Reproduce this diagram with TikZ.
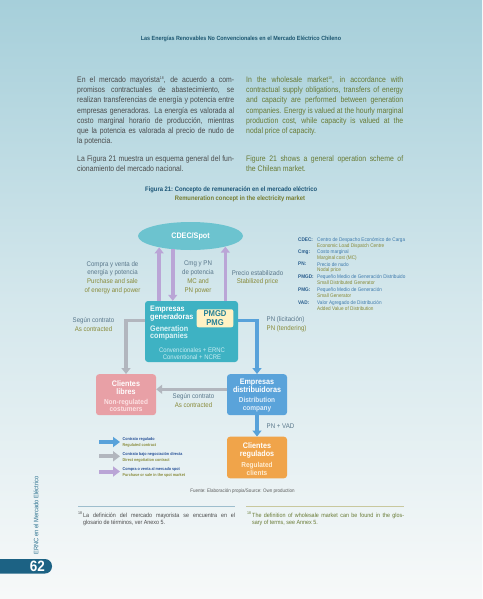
\documentclass[tikz,border=0pt]{standalone}
\usepackage{fontspec}
\setmainfont{Liberation Sans}
\newfontfamily\cond[FakeStretch=0.9]{Liberation Sans}
\newfontfamily\bodyf[FakeStretch=0.86]{Liberation Sans}
\usetikzlibrary{shapes.geometric,arrows.meta}
\tolerance=9999
\hbadness=10000
\newcommand{\fnmk}[1]{\raisebox{3pt}{\fontsize{4}{4}\selectfont #1}}
\definecolor{bgtop}{RGB}{166,207,218}
\definecolor{bgmid}{RGB}{212,231,236}
\definecolor{bgbot}{RGB}{247,249,249}
\definecolor{hdr}{RGB}{28,86,112}
\definecolor{bodyg}{RGB}{75,75,75}
\definecolor{bodyo}{RGB}{104,122,52}
\definecolor{capb}{RGB}{26,84,118}
\definecolor{capo}{RGB}{118,124,48}
\definecolor{labb}{RGB}{88,118,138}
\definecolor{labo}{RGB}{136,138,56}
\definecolor{cell}{RGB}{108,195,207}
\definecolor{cgen}{RGB}{62,178,195}
\definecolor{cgens}{RGB}{222,244,247}
\definecolor{cgenc}{RGB}{200,236,242}
\definecolor{cpmg}{RGB}{255,242,196}
\definecolor{cpmgt}{RGB}{38,128,150}
\definecolor{cpink}{RGB}{232,160,166}
\definecolor{cpinks}{RGB}{253,226,228}
\definecolor{cdist}{RGB}{90,163,218}
\definecolor{cdists}{RGB}{222,237,250}
\definecolor{corg}{RGB}{240,164,74}
\definecolor{corgs}{RGB}{255,236,208}
\definecolor{apurple}{RGB}{186,165,214}
\definecolor{agrey}{RGB}{178,182,190}
\definecolor{ablue}{RGB}{88,162,218}
\definecolor{legb}{RGB}{36,78,150}
\definecolor{abbl}{RGB}{40,92,140}
\definecolor{abbs}{RGB}{62,122,172}
\definecolor{tabc}{RGB}{28,98,132}
\definecolor{vert}{RGB}{42,112,142}
\definecolor{srcg}{RGB}{90,90,90}
\definecolor{rulel}{RGB}{158,190,205}
\definecolor{ruler}{RGB}{200,200,158}
\tikzset{
  txt/.style={inner sep=0pt},
  para/.style={txt, anchor=base west, text width=157pt, align=justify,
    font=\bodyf\fontsize{8}{10.2}\selectfont},
  lab/.style={txt, align=center, font=\cond\fontsize{6.8}{8.8}\selectfont},
  labl/.style={txt, align=left, anchor=west, font=\cond\fontsize{6.8}{8.3}\selectfont},
  box/.style={rounded corners=3pt, inner sep=0pt, minimum width=60pt, minimum height=41pt},
  btitle/.style={txt, align=center, text=white, font=\cond\bfseries\fontsize{8}{8.4}\selectfont},
  bsub/.style={txt, align=center, font=\cond\bfseries\fontsize{7.2}{7.6}\selectfont},
  conn/.style={line width=3.6pt, -{Triangle[width=9pt,length=6pt]}},
  purp/.style={conn, draw=apurple},
  greyc/.style={conn, draw=agrey},
  bluec/.style={conn, draw=ablue},
  legarrow/.style={line width=4pt, -{Triangle[width=10pt,length=7pt]}},
  legtxt/.style={txt, anchor=west, align=left, font=\cond\bfseries\fontsize{4.1}{5.8}\selectfont},
  abbk/.style={txt, anchor=north west, text=abbl, font=\cond\bfseries\fontsize{5.2}{5.7}\selectfont},
  abbd/.style={txt, anchor=north west, align=left, font=\cond\fontsize{5.2}{5.7}\selectfont},
  foot/.style={txt, anchor=base west, text width=152pt, align=justify,
    font=\cond\fontsize{6}{7.4}\selectfont},
}
\begin{document}
\begin{tikzpicture}[x=1pt,y=-1pt]
\useasboundingbox (0,0) rectangle (482,599);
% background
\shade[top color=bgtop, bottom color=bgmid] (0,0) rectangle (482,300);
\shade[top color=bgmid, bottom color=bgbot] (0,299.5) rectangle (482,599);

% header
\node[txt, text=hdr, font=\cond\bfseries\fontsize{6}{7}\selectfont] (hdr) at (241,39)
  {Las Energías Renovables No Convencionales en el Mercado Eléctrico Chileno};

% body text
\node[para, text=bodyg] (pl1) at (77,82.5) {En el mercado mayorista\fnmk{18}, de acuerdo a com-\linebreak
promisos contractuales de abastecimiento, se\linebreak
realizan transferencias de energía y potencia entre\linebreak
empresas generadoras. La energía es valorada al\linebreak
costo marginal horario de producción, mientras\linebreak
que la potencia es valorada al precio de nudo de\linebreak
la potencia.};
\node[para, text=bodyg] (pl2) at (77,161) {La Figura 21 muestra un esquema general del fun-\linebreak
cionamiento del mercado nacional.};
\node[para, text=bodyo] (pr1) at (246,82.5) {In the wholesale market\fnmk{18}, in accordance with\linebreak
contractual supply obligations, transfers of energy\linebreak
and capacity are performed between generation\linebreak
companies. Energy is valued at the hourly marginal\linebreak
production cost, while capacity is valued at the\linebreak
nodal price of capacity.};
\node[para, text=bodyo] (pr2) at (246,161) {Figure 21 shows a general operation scheme of\linebreak
the Chilean market.};

% caption
\node[txt, anchor=base west, font=\cond\bfseries\fontsize{6.5}{9}\selectfont] (cap) at (145,191)
  {\begin{tabular}[t]{@{}l@{}l@{}}\textcolor{capb}{Figura 21:\ } & \textcolor{capb}{Concepto de remuneración en el mercado eléctrico}\\
   & \textcolor{capo}{Remuneration concept in the electricity market}\end{tabular}};

% CDEC ellipse
\node[ellipse, fill=cell, minimum width=105pt, minimum height=28pt, inner sep=0pt,
  text=white, font=\cond\bfseries\fontsize{8}{9}\selectfont] (cdec) at (190.5,236) {CDEC/Spot};

% generation box
\node[box, fill=cgen, minimum width=93pt, minimum height=61pt] (gen) at (191.5,331.5) {};
\node[txt, anchor=west, align=left, text=white, font=\cond\bfseries\fontsize{8}{8.5}\selectfont] (gent) at (150,313.5) {Empresas\\generadoras};
\node[txt, anchor=west, align=left, text=cgens, font=\cond\bfseries\fontsize{8}{7.6}\selectfont] (gens) at (150,332.8) {Generation\\companies};
\node[txt, align=center, text=cgenc, font=\cond\fontsize{6.6}{7.3}\selectfont] (genc) at (192,353.6) {Convencionales + ERNC\\Conventional + NCRE};
\node[rounded corners=2pt, fill=cpmg, minimum width=36.6pt, minimum height=18pt, inner sep=0pt,
  align=center, text=cpmgt, font=\cond\bfseries\fontsize{8.5}{9}\selectfont] (pmg) at (215,318.3) {PMGD\\PMG};

% clients / distribution boxes
\node[box, fill=cpink] (libres) at (126,394.7) {};
\node[btitle] (librest) at (126,387.5) {Clientes\\libres};
\node[bsub, text=cpinks] (libress) at (126,405.5) {Non-regulated\\costumers};

\node[box, fill=cdist] (dist) at (257,394.7) {};
\node[btitle] (distt) at (257,386) {Empresas\\distribuidoras};
\node[bsub, text=cdists] (dists) at (257,404.5) {Distribution\\company};

\node[box, fill=corg, minimum height=41.6pt] (reg) at (257,457.5) {};
\node[btitle] (regt) at (257,450.2) {Clientes\\regulados};
\node[bsub, text=corgs] (regs) at (257,468.8) {Regulated\\clients};

% connectors
\draw[purp] (gen.north -| cdec.200) -- (cdec.200);
\draw[purp] (cdec.217) -- (gen.north -| cdec.217);
\draw[purp] (gen.north -| cdec.343) -- (cdec.343);
\coordinate (gl) at (126,320.5);
\draw[greyc] (gen.west |- gl) -- (gl) -- (libres.north);
\coordinate (br) at (257,320.5);
\draw[bluec] (gen.east |- br) -- (br) -- (dist.north);
\coordinate (gm) at (190,389.3);
\draw[greyc] (dist.west |- gm) -- (libres.east |- gm);
\draw[bluec] (dist.south) -- (reg.north);

% connector labels
\node[lab] (l1) at (112.5,277.5) {\textcolor{labb}{Compra y venta de}\\\textcolor{labb}{energía y potencia}\\\textcolor{labo}{Purchase and sale}\\\textcolor{labo}{of energy and power}};
\node[lab] (l2) at (198,277.5) {\textcolor{labb}{Cmg y PN}\\\textcolor{labb}{de potencia}\\\textcolor{labo}{MC and}\\\textcolor{labo}{PN power}};
\node[lab] (l3) at (257.5,277.8) {\textcolor{labb}{Precio estabilizado}\\\textcolor{labo}{Stabilized price}};
\node[lab] (l4) at (93.5,324.2) {\textcolor{labb}{Según contrato}\\\textcolor{labo}{As contracted}};
\node[labl] (l5) at (266.5,324.2) {\textcolor{labb}{PN (licitación)}\\\textcolor{labo}{PN (tendering)}};
\node[lab] (l6) at (193.5,400.9) {\textcolor{labb}{Según contrato}\\\textcolor{labo}{As contracted}};
\node[labl, text=labb] (l7) at (266.5,425.7) {PN + VAD};

% abbreviations
\node[abbk] (k1) at (298,237.7) {CDEC:};
\node[abbd] (d1) at (317,237.7) {\textcolor{abbs}{Centro de Despacho Económico de Carga}\\\textcolor{labo}{Economic Load Dispatch Centre}};
\node[abbk] (k2) at (298,249.9) {Cmg:};
\node[abbd] (d2) at (317,249.9) {\textcolor{abbs}{Costo marginal}\\\textcolor{labo}{Marginal cost (MC)}};
\node[abbk] (k3) at (298,262.1) {PN:};
\node[abbd] (d3) at (317,262.1) {\textcolor{abbs}{Precio de nudo}\\\textcolor{labo}{Nodal price}};
\node[abbk] (k4) at (298,274.6) {PMGD:};
\node[abbd] (d4) at (317,274.6) {\textcolor{abbs}{Pequeño Medio de Generación Distribuido}\\\textcolor{labo}{Small Distributed Generator}};
\node[abbk] (k5) at (298,287.4) {PMG:};
\node[abbd] (d5) at (317,287.4) {\textcolor{abbs}{Pequeño Medio de Generación}\\\textcolor{labo}{Small Generator}};
\node[abbk] (k6) at (298,300.3) {VAD:};
\node[abbd] (d6) at (317,300.3) {\textcolor{abbs}{Valor Agregado de Distribución}\\\textcolor{labo}{Added Value of Distribution}};

% legend
\coordinate (la1) at (99,442); \coordinate (la2) at (120,442);
\draw[legarrow, draw=ablue] (la1) -- (la2);
\coordinate (lb1) at (99,456.3); \coordinate (lb2) at (120,456.3);
\draw[legarrow, draw=agrey] (lb1) -- (lb2);
\coordinate (lc1) at (99,471.5); \coordinate (lc2) at (120,471.5);
\draw[legarrow, draw=apurple] (lc1) -- (lc2);
\node[legtxt] (t1) at (122.5,442.8) {\textcolor{legb}{Contrato regulado}\\\textcolor{labo}{Regulated contract}};
\node[legtxt] (t2) at (122.5,457.2) {\textcolor{legb}{Contrato bajo negociación directa}\\\textcolor{labo}{Direct negotiation contract}};
\node[legtxt] (t3) at (122.5,472.6) {\textcolor{legb}{Compra o venta al mercado spot}\\\textcolor{labo}{Purchase or sale in the spot market}};

% source
\node[txt, text=srcg, font=\cond\fontsize{5}{6}\selectfont] (src) at (242.5,491) {Fuente: Elaboración propia/Source: Own production};

% footnotes
\draw[rulel, line width=1.3pt] (78,506.8) -- (235,506.8);
\draw[ruler, line width=1.3pt] (246,506.8) -- (404,506.8);
\node[txt, anchor=base west, text=bodyg, font=\cond\fontsize{4}{5}\selectfont] (s1) at (78,514.5) {18};
\node[foot, text=bodyg] (f1) at (83,517.5) {La definición del mercado mayorista se encuentra en el\linebreak glosario de términos, ver Anexo 5.};
\node[txt, anchor=base west, text=bodyo, font=\cond\fontsize{4}{5}\selectfont] (s2) at (247,514.5) {18};
\node[foot, text=bodyo] (f2) at (252,517.5) {The definition of wholesale market can be found in the glos-\linebreak sary of terms, see Annex 5.};

% side text and page tab
\node[txt, rotate=90, text=vert, font=\cond\fontsize{6.4}{7}\selectfont] (side) at (36,515.5) {ERNC en el Mercado Eléctrico};
\fill[tabc, rounded corners=7pt] (-12,559) rectangle (52,573.5);
\node[txt, text=white, font=\cond\bfseries\fontsize{15}{15}\selectfont] (pg) at (37.5,566.5) {62};
\end{tikzpicture}
\end{document}
